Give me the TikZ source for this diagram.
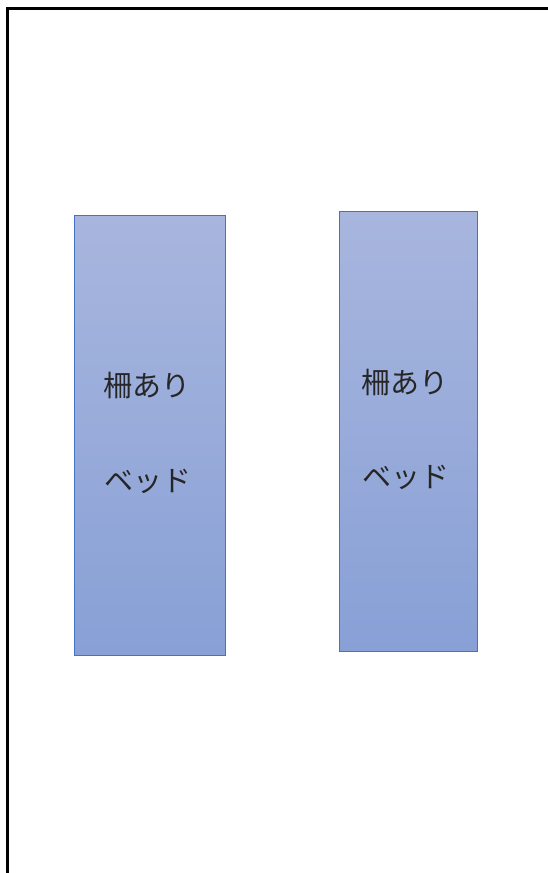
\documentclass[tikz,border=0pt]{standalone}
\usepackage{fontspec}
\newfontfamily\jpfont{Noto Sans CJK JP}
\definecolor{bedline}{RGB}{68,114,196}
\definecolor{bedtop}{RGB}{168,182,222}
\definecolor{bedbottom}{RGB}{136,160,214}
\definecolor{bedtext}{RGB}{38,38,38}
\tikzset{
  bedbox/.style={draw=bedline, line width=1pt, top color=bedtop, bottom color=bedbottom, inner sep=0pt},
  bedlabel/.style={font=\jpfont\fontsize{29}{30}\selectfont, text=bedtext, inner sep=0pt}
}
\begin{document}
\begin{tikzpicture}[x=1pt,y=1pt]
    \useasboundingbox (0,0) rectangle (547,-873);

    % room outline (runs off the page right and below)
    \draw[line width=3pt] (560,-8) -- (7,-8) -- (7,-890);

    % left bed
    \node[bedbox, minimum width=151.5pt, minimum height=440pt] (bedA) at (150,-435) {};
    \node[bedlabel] (bedAtop) at (147,-385) {柵あり};
    \node[bedlabel] (bedAbot) at (148,-481) {ベッド};

    % right bed
    \node[bedbox, minimum width=138pt, minimum height=440pt] (bedB) at (408,-431) {};
    \node[bedlabel] (bedBtop) at (405,-382) {柵あり};
    \node[bedlabel] (bedBbot) at (406,-477) {ベッド};
\end{tikzpicture}
\end{document}
